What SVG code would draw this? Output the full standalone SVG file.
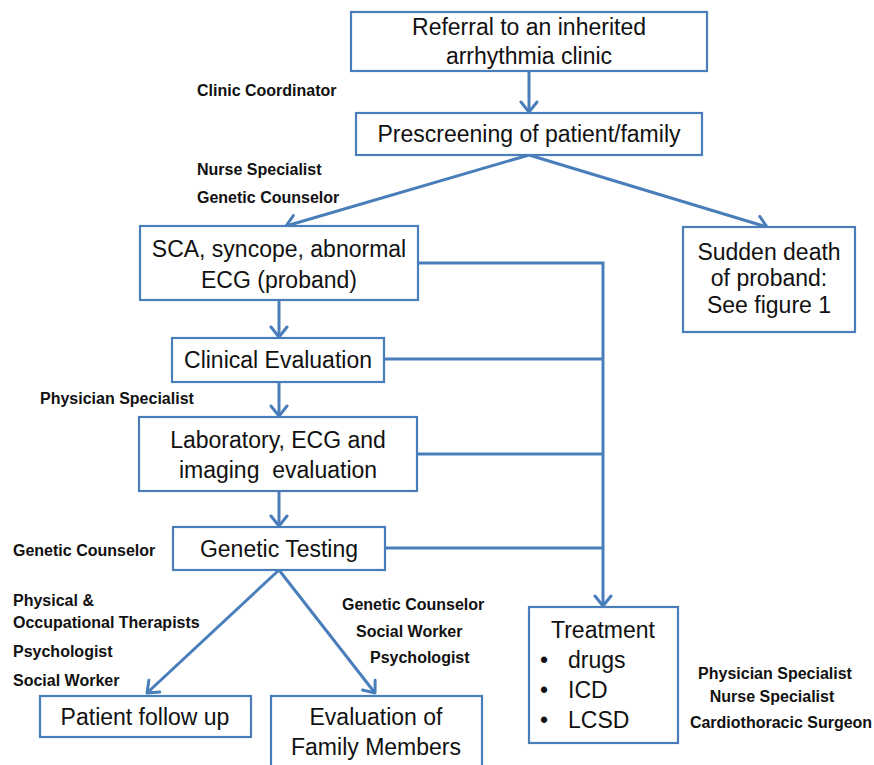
<svg xmlns="http://www.w3.org/2000/svg" width="874" height="765" viewBox="0 0 874 765">
<style>
.box{fill:#fff;stroke:#4A7EBB;stroke-width:2.2}
.t{font-family:"Liberation Sans",Arial,sans-serif;font-size:23px;fill:#111;text-anchor:middle;white-space:pre}
.tl{font-family:"Liberation Sans",Arial,sans-serif;font-size:23px;fill:#111}
.r{font-family:"Liberation Sans",Arial,sans-serif;font-size:16px;font-weight:bold;fill:#111;white-space:pre}
.rc{font-family:"Liberation Sans",Arial,sans-serif;font-size:16px;font-weight:bold;fill:#111;text-anchor:middle}
.c{fill:none;stroke:#4A7EBB;stroke-width:3}
</style>
<defs>
<marker id="ah" viewBox="-13 -10 15 20" refX="0" refY="0" markerWidth="15" markerHeight="20" markerUnits="userSpaceOnUse" orient="auto">
<path d="M-10,-8 L0,0 L-10,8" fill="none" stroke="#4A7EBB" stroke-width="3" stroke-linecap="round" stroke-linejoin="round"/>
</marker>
</defs>
<rect width="874" height="765" fill="#fff"/>
<g id="connectors">
<path class="c" d="M529,71 V112" marker-end="url(#ah)"/>
<path class="c" d="M529,155 L286,226" marker-end="url(#ah)"/>
<path class="c" d="M529,155 L767,227" marker-end="url(#ah)"/>
<path class="c" d="M279,300 V337" marker-end="url(#ah)"/>
<path class="c" d="M279,382 V416" marker-end="url(#ah)"/>
<path class="c" d="M279,491 V526" marker-end="url(#ah)"/>
<path class="c" d="M279,570 L147,693" marker-end="url(#ah)"/>
<path class="c" d="M279,570 L375,693" marker-end="url(#ah)"/>
<path class="c" d="M418,263 H603 V606" marker-end="url(#ah)"/>
<path class="c" d="M384,359 H603"/>
<path class="c" d="M417,454 H603"/>
<path class="c" d="M385,548 H603"/>
</g>
<g id="referral">
<rect class="box" x="351" y="12" width="356" height="59"/>
<text class="t" x="529" y="35">Referral to an inherited</text>
<text class="t" x="529" y="64">arrhythmia clinic</text>
</g>
<g id="prescreening">
<rect class="box" x="356" y="113" width="346" height="42"/>
<text class="t" x="529" y="142">Prescreening of patient/family</text>
</g>
<g id="sca">
<rect class="box" x="140" y="226" width="278" height="74"/>
<text class="t" x="279" y="257">SCA, syncope, abnormal</text>
<text class="t" x="279" y="288">ECG (proband)</text>
</g>
<g id="sudden-death">
<rect class="box" x="683" y="227" width="172" height="105"/>
<text class="t" x="769" y="260">Sudden death</text>
<text class="t" x="769" y="286">of proband:</text>
<text class="t" x="769" y="313">See figure 1</text>
</g>
<g id="clinical">
<rect class="box" x="172" y="338" width="212" height="44"/>
<text class="t" x="278" y="368">Clinical Evaluation</text>
</g>
<g id="lab">
<rect class="box" x="139" y="417" width="278" height="74"/>
<text class="t" x="278" y="448">Laboratory, ECG and</text>
<text class="t" x="278" y="478">imaging  evaluation</text>
</g>
<g id="genetic">
<rect class="box" x="173" y="527" width="212" height="43"/>
<text class="t" x="279" y="557">Genetic Testing</text>
</g>
<g id="followup">
<rect class="box" x="40" y="696" width="211" height="41"/>
<text class="t" x="145" y="725">Patient follow up</text>
</g>
<g id="family">
<rect class="box" x="271" y="696" width="211" height="80"/>
<text class="t" x="376" y="725">Evaluation of</text>
<text class="t" x="376" y="755">Family Members</text>
</g>
<g id="treatment">
<rect class="box" x="529" y="607" width="149" height="136"/>
<text class="t" x="603" y="638">Treatment</text>
<text class="tl" x="540" y="668">•</text><text class="tl" x="568" y="668">drugs</text>
<text class="tl" x="540" y="698">•</text><text class="tl" x="568" y="698">ICD</text>
<text class="tl" x="540" y="728">•</text><text class="tl" x="568" y="728">LCSD</text>
</g>
<g id="roles">
<text class="r" x="197" y="96">Clinic Coordinator</text>
<text class="r" x="197" y="175">Nurse Specialist</text>
<text class="r" x="197" y="203">Genetic Counselor</text>
<text class="r" x="40" y="404">Physician Specialist</text>
<text class="r" x="13" y="556">Genetic Counselor</text>
<text class="r" x="13" y="606">Physical &amp;</text>
<text class="r" x="13" y="628">Occupational Therapists</text>
<text class="r" x="13" y="657">Psychologist</text>
<text class="r" x="13" y="686">Social Worker</text>
<text class="r" x="342" y="610">Genetic Counselor</text>
<text class="r" x="356" y="637">Social Worker</text>
<text class="r" x="370" y="663">Psychologist</text>
<text class="rc" x="775" y="679">Physician Specialist</text>
<text class="rc" x="772" y="702">Nurse Specialist</text>
<text class="rc" x="781" y="728">Cardiothoracic Surgeon</text>
</g>
</svg>
